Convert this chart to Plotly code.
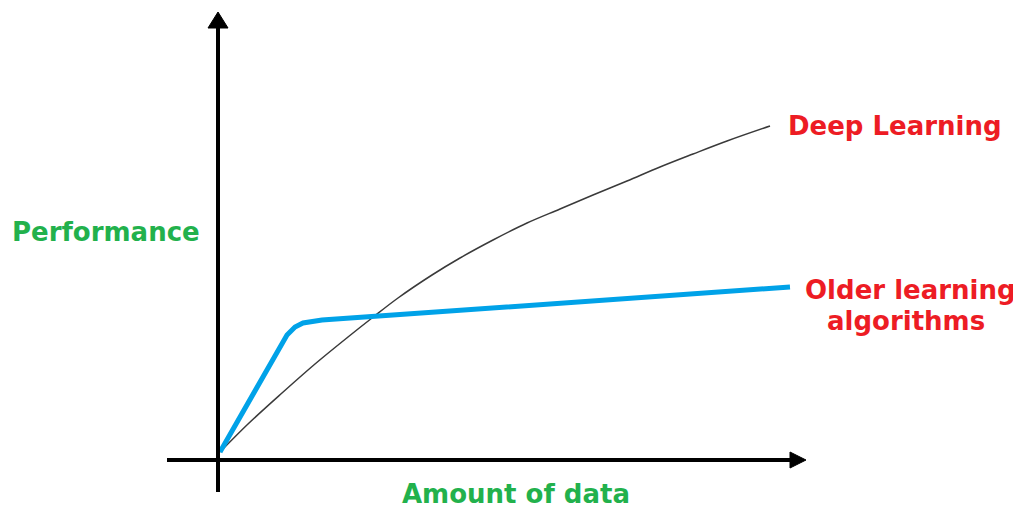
import plotly.graph_objects as go

# Data (units: horizontal "amount of data", vertical "performance")
amount_deep = [2, 30, 64, 97, 130, 154, 180, 214, 242, 275, 309, 342, 375, 409, 442, 475, 509, 552]
perf_deep = [8, 36, 67, 96, 123, 142, 162, 185, 202, 220, 237, 251, 265, 279, 293, 306, 319, 334]

amount_old = [2, 67, 69, 77, 85, 104, 147, 237, 572]
perf_old = [8, 123, 125, 133, 137, 140, 143, 150, 173]

label_deep = "Deep Learning"
label_old = ["Older learning", "algorithms"]
x_title = "Amount of data"
y_title = "Performance"

RED = "#ED1C24"
GREEN = "#22B14C"
BLUE = "#00A2E8"
FONT = "DejaVu Sans"

fig = go.Figure()
fig.add_trace(go.Scatter(x=amount_deep, y=perf_deep, mode="lines",
                         line=dict(color="#3a3a3a", width=1.5, shape="spline", smoothing=1.0),
                         hoverinfo="skip", showlegend=False))
fig.add_trace(go.Scatter(x=amount_old, y=perf_old, mode="lines",
                         line=dict(color=BLUE, width=5),
                         hoverinfo="skip", showlegend=False))

shapes = [
    # vertical axis
    dict(type="line", x0=0, x1=0, y0=-32, y1=434, line=dict(color="black", width=4)),
    dict(type="path", path="M -10 432 L 0 448 L 10 432 Z", fillcolor="black", line=dict(color="black", width=1)),
    # horizontal axis
    dict(type="line", x0=-51, x1=574, y0=0, y1=0, line=dict(color="black", width=4)),
    dict(type="path", path="M 572 -8 L 588 0 L 572 8 Z", fillcolor="black", line=dict(color="black", width=1)),
]

bold = dict(family=FONT, size=26)
annotations = [
    dict(x=677, y=334, text="<b>%s</b>" % label_deep, showarrow=False, font=dict(color=RED, **bold)),
    dict(x=692, y=170, text="<b>%s</b>" % label_old[0], showarrow=False, font=dict(color=RED, **bold)),
    dict(x=688, y=139, text="<b>%s</b>" % label_old[1], showarrow=False, font=dict(color=RED, **bold)),
    dict(x=-112, y=228, text="<b>%s</b>" % y_title, showarrow=False, font=dict(color=GREEN, **bold)),
    dict(x=298, y=-34, text="<b>%s</b>" % x_title, showarrow=False, font=dict(color=GREEN, **bold)),
]

fig.update_layout(
    width=1021, height=506,
    margin=dict(l=0, r=0, t=0, b=0),
    paper_bgcolor="white", plot_bgcolor="white",
    xaxis=dict(range=[-210, 811], visible=False, fixedrange=True),
    yaxis=dict(range=[-54, 452], visible=False, fixedrange=True),
    shapes=shapes,
    annotations=annotations,
)

fig.write_html("out.html")
